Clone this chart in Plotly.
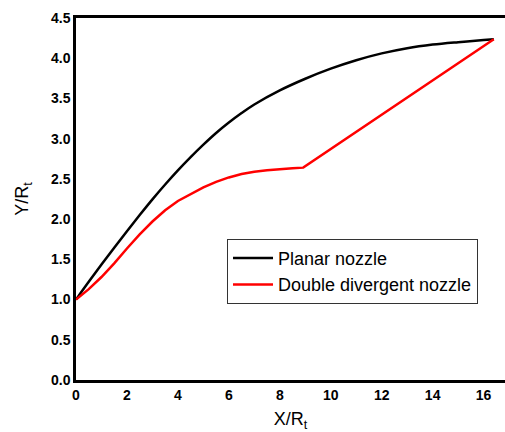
import plotly.graph_objects as go

planar_x = [0, 0.5, 1, 1.5, 2, 2.5, 3, 3.5, 4, 4.5, 5, 5.5, 6, 6.5, 7, 8, 9, 10, 11, 12, 13, 14, 15, 16, 16.4]
planar_y = [1.0, 1.22, 1.435, 1.645, 1.85, 2.05, 2.245, 2.43, 2.605, 2.77, 2.925, 3.07, 3.2, 3.318,
            3.425, 3.60, 3.745, 3.87, 3.975, 4.06, 4.125, 4.17, 4.20, 4.225, 4.235]

dd_x = [0, 0.5, 1, 1.5, 2, 2.5, 3, 3.5, 4, 4.5, 5, 5.5, 6, 6.5, 7, 7.5, 8, 8.5, 8.92, 16.4]
dd_y = [1.0, 1.13, 1.28, 1.45, 1.635, 1.81, 1.97, 2.11, 2.225, 2.315, 2.395, 2.463, 2.518,
        2.56, 2.59, 2.607, 2.622, 2.633, 2.64, 4.235]

x_ticks = [0, 2, 4, 6, 8, 10, 12, 14, 16]
y_ticks = [0.0, 0.5, 1.0, 1.5, 2.0, 2.5, 3.0, 3.5, 4.0, 4.5]

FONT = "Liberation Sans, Arial, sans-serif"

fig = go.Figure()
fig.add_trace(go.Scatter(x=planar_x, y=planar_y, mode="lines", name="Planar nozzle",
                         line=dict(color="black", width=2.5, shape="spline", smoothing=1)))
fig.add_trace(go.Scatter(x=dd_x, y=dd_y, mode="lines", name="Double divergent nozzle",
                         line=dict(color="#ff0000", width=2.5)))

fig.update_layout(
    width=505, height=432,
    margin=dict(l=76, r=0, t=18, b=52),
    paper_bgcolor="white", plot_bgcolor="white",
    font=dict(family=FONT, color="black"),
    showlegend=True,
    legend=dict(x=0.352, y=0.39, xanchor="left", yanchor="top",
                bgcolor="white", bordercolor="#333", borderwidth=1,
                font=dict(size=18, family=FONT, color="black"),
                tracegroupgap=0, itemwidth=40),
    xaxis=dict(range=[0, 16.84], tickvals=x_ticks, ticktext=[str(v) for v in x_ticks],
               showline=True, linecolor="black", linewidth=2.5, mirror=True,
               showgrid=False, zeroline=False, ticks="",
               tickfont=dict(size=14, family=FONT, weight="bold", color="black"),
               title=dict(text="X/R<sub>t</sub>", font=dict(size=18, family=FONT), standoff=12)),
    yaxis=dict(range=[0, 4.5], tickvals=y_ticks, ticktext=[f"{v:.1f}" for v in y_ticks],
               showline=True, linecolor="black", linewidth=2.5, mirror=False,
               showgrid=False, zeroline=False, ticks="",
               tickfont=dict(size=14, family=FONT, weight="bold", color="black"),
               title=dict(text="Y/R<sub>t</sub>", font=dict(size=18, family=FONT), standoff=18)),
)

fig.write_html("out.html")
